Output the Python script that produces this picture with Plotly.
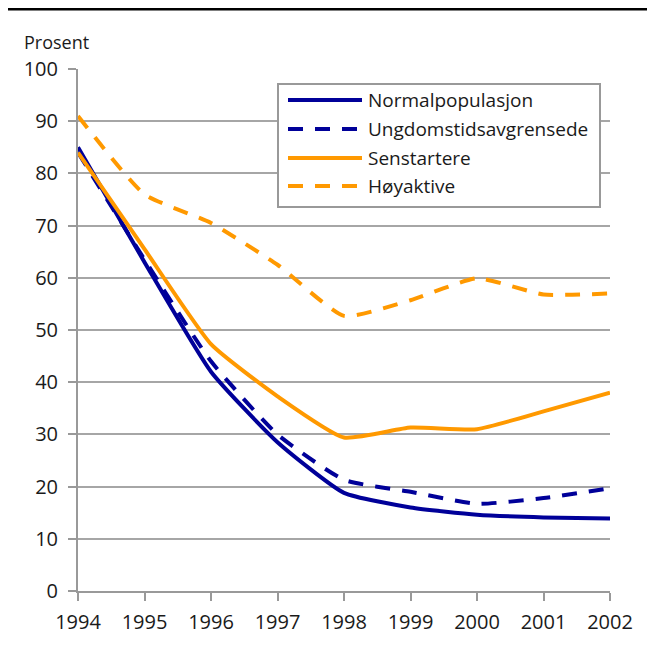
import plotly.graph_objects as go

years = [1994, 1995, 1996, 1997, 1998, 1999, 2000, 2001, 2002]
series_names = ["Normalpopulasjon", "Ungdomstidsavgrensede", "Senstartere", "Høyaktive"]
normalpopulasjon = [85.0, 63.0, 42.0, 28.5, 18.8, 16.0, 14.6, 14.1, 13.9]
ungdomstidsavgrensede = [84.0, 63.5, 44.0, 30.0, 21.3, 19.0, 16.7, 17.8, 19.7]
senstartere = [84.0, 65.5, 47.3, 37.3, 29.4, 31.3, 31.0, 34.4, 38.0]
hoyaktive = [91.0, 76.0, 70.5, 62.5, 52.7, 55.7, 59.9, 56.8, 57.0]
y_ticks = [0, 10, 20, 30, 40, 50, 60, 70, 80, 90, 100]

BLUE = "#000099"
ORANGE = "#FF9900"
DASH = "15px,12px"
styles = [(BLUE, "solid"), (BLUE, DASH), (ORANGE, "solid"), (ORANGE, DASH)]
values = [normalpopulasjon, ungdomstidsavgrensede, senstartere, hoyaktive]

fig = go.Figure()
for name, vals, (col, dash) in zip(series_names, values, styles):
    fig.add_trace(go.Scatter(
        x=years, y=vals, name=name, mode="lines",
        line=dict(color=col, width=4, dash=dash, shape="spline", smoothing=0.5),
        showlegend=False,
    ))

FONT = "Open Sans, Noto Sans, DejaVu Sans, sans-serif"
TXT = "#1a1a1a"
OFF = 8  # default page body margin
W, H = 655 - OFF, 650 - OFF
L, R, T, B = 78 - OFF, 45, 69 - OFF, 59
pw, ph = W - L - R, H - T - B

def px(x):
    return (x - OFF - L) / pw

def py(y):
    return (H - B - (y - OFF)) / ph

shapes = []
annotations = []
shapes.append(dict(type="rect", xref="paper", yref="paper",
                   x0=px(278), x1=px(600), y0=py(207), y1=py(84),
                   line=dict(color="#999999", width=2), fillcolor="white", layer="above"))
rows = [100, 129, 158, 186]
for name, (col, dash), ry in zip(series_names, styles, rows):
    shapes.append(dict(type="line", xref="paper", yref="paper",
                       x0=px(288), x1=px(362), y0=py(ry), y1=py(ry),
                       line=dict(color=col, width=4, dash=dash), layer="above"))
    annotations.append(dict(text=name, xref="paper", yref="paper",
                            x=px(366), y=py(ry), xanchor="left", yanchor="middle",
                            showarrow=False, font=dict(size=19, color=TXT, family=FONT)))
shapes.append(dict(type="line", xref="paper", yref="paper",
                   x0=px(OFF), x1=px(655), y0=py(9), y1=py(9),
                   line=dict(color="black", width=3)))
annotations.append(dict(text="Prosent", xref="paper", yref="paper",
                        x=px(22), y=py(42), xanchor="left", yanchor="middle",
                        showarrow=False, font=dict(size=18, color=TXT, family=FONT)))

fig.update_layout(
    width=W, height=H,
    margin=dict(l=L, r=R, t=T, b=B),
    paper_bgcolor="white", plot_bgcolor="white",
    font=dict(family=FONT, size=20, color=TXT),
    shapes=shapes, annotations=annotations,
    xaxis=dict(range=[1994, 2002], tickvals=years, ticktext=[str(y) for y in years],
               showgrid=False, zeroline=False, showline=True, linecolor="#999999", linewidth=2,
               ticks="outside", ticklen=8, tickcolor="#999999", tickwidth=2,
               ticklabelstandoff=4),
    yaxis=dict(range=[0, 100], tickvals=y_ticks, showgrid=True, gridcolor="#a6a6a6", gridwidth=2,
               zeroline=False, showline=True, linecolor="#999999", linewidth=2,
               ticks="outside", ticklen=8, tickcolor="#999999", tickwidth=2,
               ticklabelstandoff=6),
)
fig.write_html("out.html")
